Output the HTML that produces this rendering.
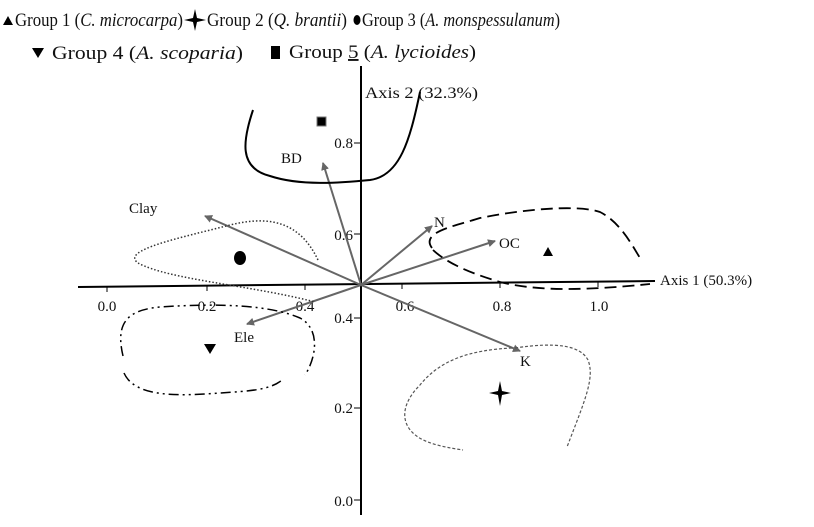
<!DOCTYPE html>
<html><head><style>
body{margin:0;background:#fff;}
svg text{font-family:"Liberation Serif",serif;fill:#111;}
</style></head><body>
<svg width="814" height="522" viewBox="0 0 814 522" xmlns="http://www.w3.org/2000/svg">
<defs>
<marker id="ar" markerWidth="8" markerHeight="8" refX="7" refY="4" orient="auto" markerUnits="userSpaceOnUse">
<path d="M0,0 L8,4 L0,8 Z" fill="#666"/></marker>
</defs>
<!-- legend -->
<g font-size="19">
<path d="M3,25 L8,16 L13,25 Z" fill="#000"/>
<text x="15" y="26" textLength="168" lengthAdjust="spacingAndGlyphs">Group 1 (<tspan font-style="italic">C. microcarpa</tspan>)</text>
<path d="M184,20 L193,18 L195,9 L197,18 L206,20 L197,22 L195,31 L193,22 Z" fill="#000"/>
<text x="207" y="26" textLength="140" lengthAdjust="spacingAndGlyphs">Group 2 (<tspan font-style="italic">Q. brantii</tspan>)</text>
<ellipse cx="357" cy="20" rx="3.5" ry="5" fill="#000"/>
<text x="362" y="26" textLength="198" lengthAdjust="spacingAndGlyphs">Group 3 (<tspan font-style="italic">A. monspessulanum</tspan>)</text>
<path d="M32,48 L44,48 L38,58 Z" fill="#000"/>
<text x="52" y="59" textLength="191" lengthAdjust="spacingAndGlyphs">Group 4 (<tspan font-style="italic">A. scoparia</tspan>)</text>
<rect x="271" y="46" width="9" height="13" fill="#000"/>
<text x="289" y="58" textLength="187" lengthAdjust="spacingAndGlyphs">Group <tspan text-decoration="underline">5</tspan> (<tspan font-style="italic">A. lycioides</tspan>)</text>
</g>
<!-- axes -->
<line x1="361" y1="66" x2="361" y2="515" stroke="#000" stroke-width="2"/>
<line x1="78" y1="287" x2="655" y2="281" stroke="#000" stroke-width="2"/>
<g stroke="#000" stroke-width="1">
<line x1="107" y1="287" x2="107" y2="292"/><line x1="207" y1="286" x2="207" y2="291"/>
<line x1="305" y1="285" x2="305" y2="290"/><line x1="402" y1="284" x2="402" y2="289"/>
<line x1="500" y1="283" x2="500" y2="288"/><line x1="598" y1="282" x2="598" y2="287"/>
<line x1="354" y1="143" x2="361" y2="143"/><line x1="354" y1="234" x2="361" y2="234"/>
<line x1="354" y1="318" x2="361" y2="318"/><line x1="354" y1="408" x2="361" y2="408"/>
<line x1="354" y1="500" x2="361" y2="500"/>
</g>
<g font-size="15" text-anchor="middle">
<text x="107" y="311">0.0</text><text x="207" y="311">0.2</text><text x="305" y="311">0.4</text>
<text x="405" y="311">0.6</text><text x="502" y="311">0.8</text><text x="599" y="311">1.0</text>
</g>
<g font-size="15" text-anchor="end">
<text x="353" y="148">0.8</text><text x="353" y="240">0.6</text><text x="353" y="323">0.4</text>
<text x="353" y="413">0.2</text><text x="353" y="506">0.0</text>
</g>
<text x="660" y="285" font-size="15">Axis 1 (50.3%)</text>
<text x="365" y="98" font-size="16" textLength="113" lengthAdjust="spacingAndGlyphs">Axis 2 (32.3%)</text>
<!-- arrows -->
<g stroke="#666" stroke-width="2" marker-end="url(#ar)">
<line x1="361" y1="285" x2="323" y2="163"/>
<line x1="361" y1="285" x2="205" y2="216"/>
<line x1="361" y1="285" x2="432" y2="226"/>
<line x1="361" y1="285" x2="495" y2="241"/>
<line x1="361" y1="285" x2="520" y2="351"/>
<line x1="361" y1="285" x2="247" y2="324"/>
</g>
<g font-size="15">
<text x="281" y="163">BD</text><text x="129" y="213">Clay</text><text x="434" y="227">N</text>
<text x="499" y="248">OC</text><text x="520" y="366">K</text><text x="234" y="342">Ele</text>
</g>
<!-- curves -->
<path d="M253,110 C243,140 238,168 270,176 C300,186 340,183 370,180 C400,176 410,140 420,92" fill="none" stroke="#000" stroke-width="2"/>
<path d="M318,260 C300,222 270,215 230,225 C180,238 120,250 138,263 C170,280 250,285 315,302" fill="none" stroke="#333" stroke-width="1.5" stroke-dasharray="1.5,2"/>
<path d="M432,248 C420,232 455,226 480,218 C530,208 580,205 600,212 C620,222 632,245 640,258" fill="none" stroke="#000" stroke-width="1.8" stroke-dasharray="12,6"/>
<path d="M433,250 C450,266 480,276 500,282 C540,292 590,290 650,284" fill="none" stroke="#000" stroke-width="1.8" stroke-dasharray="12,6"/>
<path d="M123,356 C115,322 128,310 160,307 C220,303 270,305 300,318 C322,330 315,360 305,375" fill="none" stroke="#000" stroke-width="1.5" stroke-dasharray="10,4,2,4,2,4"/>
<path d="M124,373 C135,398 180,396 220,393 C250,391 270,390 282,380" fill="none" stroke="#000" stroke-width="1.5" stroke-dasharray="10,4,2,4,2,4"/>
<path d="M515,348 C555,342 580,345 588,360 C595,378 585,400 567,447" fill="none" stroke="#555" stroke-width="1.2" stroke-dasharray="3,2"/>
<path d="M512,348 C470,350 440,360 420,385 C400,405 400,425 418,437 C430,445 450,448 463,450" fill="none" stroke="#555" stroke-width="1.2" stroke-dasharray="3,2"/>
<!-- markers -->
<rect x="317" y="117" width="9" height="9" fill="#000" stroke="#777" stroke-width="1"/>
<ellipse cx="240" cy="258" rx="6" ry="7" fill="#000"/>
<path d="M543,256 L548,247 L553,256 Z" fill="#000"/>
<path d="M204,344 L216,344 L210,354 Z" fill="#000"/>
<path d="M489,393 L498,391 L500,381 L502,391 L511,393 L502,395 L500,406 L498,395 Z" fill="#000"/>
</svg>
</body></html>
